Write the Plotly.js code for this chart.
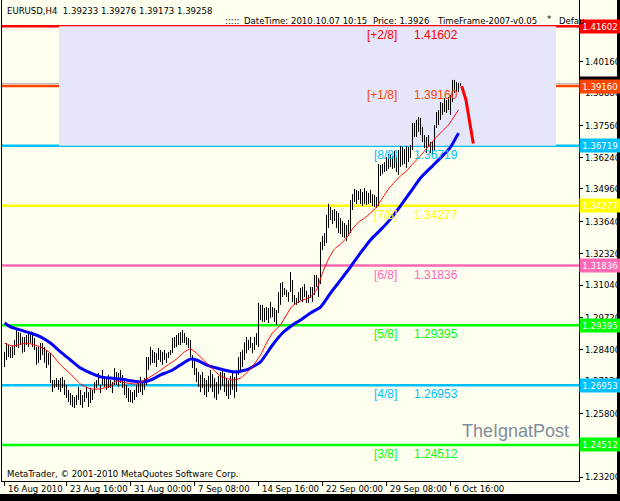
<!DOCTYPE html>
<html><head><meta charset="utf-8">
<script src="https://cdn.plot.ly/plotly-3.0.1.min.js"></script>
<style>
html,body{margin:0;padding:0;background:#000;width:620px;height:501px;overflow:hidden}
#bg{position:absolute;left:0;top:0;width:617px;height:494px;background:#FFFFF0}
#chart{position:absolute;left:0;top:0;width:620px;height:501px}
</style></head><body>
<div id="bg"></div><div id="chart"></div>
<script>
// ---------- data ----------
const symbol = 'EURUSD,H4';
const lastOHLC = [1.39233, 1.39276, 1.39173, 1.39258];
const headerDate = '2010.10.07 10:15';
const headerPrice = 1.3926;
const indicatorName = 'TimeFrame-2007-v0.05';

const high = [
1.2831,1.2867,1.2859,1.2851,1.2859,1.2880,1.2920,1.2912,1.2908,1.2892,
1.2892,1.2900,1.2908,1.2912,1.2908,1.2888,1.2851,1.2851,1.2867,1.2867,
1.2851,1.2839,1.2826,1.2826,1.2716,1.2716,1.2724,1.2716,1.2724,1.2729,
1.2716,1.2696,1.2676,1.2663,1.2655,1.2647,1.2655,1.2688,1.2676,1.2655,
1.2667,1.2688,1.2667,1.2684,1.2676,1.2708,1.2716,1.2745,1.2696,1.2757,
1.2729,1.2724,1.2737,1.2716,1.2708,1.2765,1.2749,1.2745,1.2757,1.2737,
1.2716,1.2696,1.2684,1.2676,1.2667,1.2676,1.2696,1.2708,1.2729,1.2704,
1.2724,1.2810,1.2810,1.2851,1.2839,1.2831,1.2826,1.2847,1.2839,1.2831,
1.2839,1.2826,1.2831,1.2839,1.2888,1.2892,1.2900,1.2908,1.2912,1.2920,
1.2908,1.2892,1.2888,1.2880,1.2818,1.2798,1.2765,1.2749,1.2737,1.2749,
1.2724,1.2716,1.2733,1.2757,1.2741,1.2724,1.2708,1.2733,1.2749,1.2765,
1.2745,1.2724,1.2716,1.2733,1.2749,1.2729,1.2757,1.2810,1.2831,1.2839,
1.2871,1.2892,1.2880,1.2892,1.2867,1.2892,1.2908,1.3031,1.3023,1.3023,
1.3010,1.3014,1.3010,1.3035,1.3014,1.3010,1.3002,1.3075,1.3112,1.3116,
1.3092,1.3084,1.3075,1.3157,1.3124,1.3063,1.3051,1.3075,1.3092,1.3096,
1.3108,1.3080,1.3063,1.3096,1.3096,1.3145,1.3145,1.3133,1.3280,1.3304,
1.3316,1.3390,1.3435,1.3422,1.3410,1.3414,1.3406,1.3398,1.3377,1.3365,
1.3357,1.3349,1.3369,1.3451,1.3475,1.3496,1.3492,1.3488,1.3496,1.3484,
1.3500,1.3488,1.3480,1.3492,1.3475,1.3471,1.3463,1.3598,1.3594,1.3598,
1.3606,1.3626,1.3639,1.3635,1.3631,1.3651,1.3626,1.3655,1.3671,1.3667,
1.3659,1.3671,1.3667,1.3675,1.3765,1.3765,1.3778,1.3790,1.3786,1.3749,
1.3716,1.3708,1.3716,1.3688,1.3688,1.3757,1.3810,1.3818,1.3851,1.3847,
1.3867,1.3859,1.3871,1.3880,1.3941,1.3941,1.3933,1.3929,1.39276];

const low = [
1.2769,1.2798,1.2810,1.2806,1.2806,1.2818,1.2851,1.2847,1.2859,1.2827,
1.2831,1.2859,1.2851,1.2867,1.2851,1.2839,1.2778,1.2786,1.2798,1.2818,
1.2786,1.2765,1.2778,1.2704,1.2667,1.2684,1.2688,1.2676,1.2667,1.2684,
1.2655,1.2643,1.2626,1.2614,1.2606,1.2602,1.2614,1.2635,1.2614,1.2602,
1.2626,1.2643,1.2606,1.2622,1.2635,1.2663,1.2684,1.2696,1.2663,1.2696,
1.2688,1.2676,1.2684,1.2684,1.2663,1.2696,1.2696,1.2688,1.2704,1.2684,
1.2655,1.2643,1.2626,1.2626,1.2622,1.2635,1.2647,1.2663,1.2667,1.2655,
1.2676,1.2696,1.2757,1.2778,1.2786,1.2786,1.2769,1.2798,1.2790,1.2778,
1.2798,1.2786,1.2806,1.2818,1.2826,1.2847,1.2851,1.2859,1.2859,1.2867,
1.2867,1.2859,1.2847,1.2810,1.2765,1.2737,1.2708,1.2688,1.2667,1.2684,
1.2655,1.2647,1.2667,1.2684,1.2667,1.2643,1.2635,1.2659,1.2676,1.2692,
1.2667,1.2651,1.2639,1.2655,1.2676,1.2643,1.2667,1.2737,1.2749,1.2769,
1.2798,1.2826,1.2839,1.2847,1.2826,1.2839,1.2859,1.2851,1.2961,1.2953,
1.2953,1.2961,1.2949,1.2969,1.2973,1.2953,1.2941,1.2990,1.3023,1.3055,
1.3063,1.3055,1.3035,1.3075,1.3035,1.3023,1.3023,1.3031,1.3043,1.3035,
1.3055,1.3031,1.3031,1.3051,1.3035,1.3063,1.3096,1.3055,1.3108,1.3247,
1.3263,1.3275,1.3337,1.3369,1.3353,1.3365,1.3337,1.3316,1.3312,1.3300,
1.3296,1.3284,1.3304,1.3316,1.3410,1.3443,1.3435,1.3451,1.3435,1.3426,
1.3435,1.3431,1.3435,1.3439,1.3426,1.3422,1.3418,1.3426,1.3549,1.3557,
1.3565,1.3569,1.3578,1.3586,1.3578,1.3582,1.3565,1.3553,1.3586,1.3594,
1.3598,1.3582,1.3606,1.3622,1.3655,1.3708,1.3708,1.3729,1.3716,1.3688,
1.3663,1.3643,1.3667,1.3643,1.3635,1.3655,1.3745,1.3757,1.3778,1.3798,
1.3810,1.3806,1.3818,1.3798,1.3851,1.3888,1.3892,1.3892,1.39173];

// moving averages (bar index, price)
const redX = [0,4,11,18,23,28,33,38,43,48,53,56,61,66,71,76,81,86,90,93,96,99,103,108,114,118,123,128,131,134,138,141,144,148,153,156,159,162,165,168,171,174,177,180,183,186,189,192,195,198,201,204,207,210,213,216,219,222,225,227];
const redY = [1.2867,1.2855,1.2867,1.2851,1.2826,1.2778,1.2741,1.2700,1.2680,1.2680,1.2692,1.2712,1.2704,1.2700,1.2720,1.2745,1.2774,1.2802,1.2831,1.2843,1.2826,1.2802,1.2769,1.2733,1.2716,1.2724,1.2761,1.2818,1.2867,1.2908,1.2941,1.2982,1.3019,1.3039,1.3055,1.3084,1.3153,1.3210,1.3251,1.3271,1.3296,1.3333,1.3361,1.3377,1.3398,1.3422,1.3459,1.3496,1.3524,1.3549,1.3569,1.3598,1.3622,1.3651,1.3680,1.3708,1.3733,1.3757,1.3794,1.3818];
const blueX = [0,3,8,13,18,23,28,33,38,43,48,53,58,64,69,73,78,83,88,93,96,101,106,112,116,122,128,134,139,144,148,153,158,163,168,173,178,183,188,193,198,203,208,214,219,223,227];
const blueY = [1.2949,1.2933,1.2920,1.2908,1.2892,1.2867,1.2831,1.2798,1.2765,1.2745,1.2729,1.2724,1.2720,1.2712,1.2708,1.2716,1.2737,1.2753,1.2778,1.2802,1.2798,1.2778,1.2765,1.2753,1.2749,1.2761,1.2790,1.2859,1.2908,1.2941,1.2961,1.2990,1.3014,1.3071,1.3124,1.3178,1.3235,1.3288,1.3329,1.3373,1.3427,1.3484,1.3541,1.3590,1.3631,1.3667,1.3724];
// projection line
const fcX = [228.6, 230.75, 232.4, 234.4];
const fcY = [1.3916, 1.3859, 1.3778, 1.3682];

// Murrey math levels
const levelNames  = ['[+2/8]','[+1/8]','[8/8]','[7/8]','[6/8]','[5/8]','[4/8]','[3/8]'];
const levelValues = [1.41602,1.39160,1.36719,1.34277,1.31836,1.29395,1.26953,1.24512];
const levelColors = ['#FF0000','#FF4500','#00BFFF','#FFFF00','#FF69B4','#00FF00','#00BFFF','#00FF00'];
const bidPrice = 1.39258;
const zoneBars = [27.25, 275.75];
const zonePrices = [1.36719, 1.41602];

const xTickIdx  = [0,31,63,95,127,159,191,223];
const xTickText = ['16 Aug 2010','23 Aug 16:00','31 Aug 00:00','7 Sep 08:00','14 Sep 16:00','22 Sep 00:00','29 Sep 08:00','6 Oct 16:00'];
const yTicks = [1.2320,1.2448,1.2580,1.2712,1.2840,1.2972,1.3104,1.3232,1.3364,1.3496,1.3624,1.3756,1.3888,1.4016,1.4148];

// ---------- font choice (narrow UI font like MetaTrader's) ----------
function hasFont(name) {
  const c = document.createElement('canvas').getContext('2d');
  c.font = "20px monospace"; const a = c.measureText('1.34960 EURUSD').width;
  c.font = "20px '" + name + "', monospace"; const b = c.measureText('1.34960 EURUSD').width;
  return Math.abs(a - b) > 0.5;
}
let UI, UIS;
if (hasFont('Liberation Sans Narrow')) { UI = "'Liberation Sans Narrow'"; UIS = 11; }
else if (hasFont('DejaVu Sans Condensed')) { UI = "'DejaVu Sans Condensed'"; UIS = 9.5; }
else { UI = "'Liberation Sans'"; UIS = 9.2; }
const LBL = "'Liberation Sans',Arial,sans-serif";

// ---------- drawing ----------
const PL = 2, PR = 579, PT = 0, PB = 481;
const px2x = px => (px - PL) / (PR - PL);
const py2y = py => (PB - py) / (PB - PT);
const NB = '\u00A0';

const bx = [], by = [];
for (let i = 0; i < high.length; i++) { bx.push(i, i, null); by.push(low[i], high[i], null); }

const traces = [
  {type:'scatter', mode:'lines', x:bx, y:by, line:{color:'#000000', width:1}, hoverinfo:'skip'},
  {type:'scatter', mode:'lines', x:blueX, y:blueY, line:{color:'#0000FF', width:3, shape:'spline', smoothing:0.5}, hoverinfo:'skip'},
  {type:'scatter', mode:'lines', x:redX, y:redY, line:{color:'#FF0000', width:1, shape:'spline', smoothing:0.5}, hoverinfo:'skip'},
  {type:'scatter', mode:'lines', x:fcX, y:fcY, line:{color:'#FF0000', width:3}, hoverinfo:'skip'}
];

const shapes = [
  {type:'rect', xref:'x', yref:'y', x0:zoneBars[0], x1:zoneBars[1], y0:zonePrices[0], y1:zonePrices[1],
   fillcolor:'#E6E6FA', line:{width:0}, layer:'below'},
  {type:'line', xref:'paper', yref:'y', x0:0, x1:1, y0:bidPrice, y1:bidPrice, line:{color:'#A8A8A8', width:1}, layer:'below'}
];
levelValues.forEach((v, k) => {
  shapes.push({type:'line', xref:'paper', yref:'y', x0:0, x1:1, y0:v, y1:v,
               line:{color:levelColors[k], width:2.5}, layer:'below'});
});

const ann = [];
ann.push({xref:'paper', yref:'y', x:1, y:bidPrice, xanchor:'left', yanchor:'middle', showarrow:false,
          text:bidPrice.toFixed(5), bgcolor:'#000000', font:{family:UI, size:UIS, color:'#FFFFFF'},
          width:38, height:11, borderpad:1});
levelValues.forEach((v, k) => {
  ann.push({xref:'x', yref:'y', x:(399-4.5)/2, y:v, yshift:-9, xanchor:'right', yanchor:'middle', showarrow:false,
            text:levelNames[k], font:{family:LBL, size:12, color:levelColors[k]}});
  ann.push({xref:'x', yref:'y', x:(412-4.5)/2, y:v, yshift:-9, xanchor:'left', yanchor:'middle', showarrow:false,
            text:v.toFixed(5), font:{family:LBL, size:12, color:levelColors[k]}});
  ann.push({xref:'paper', yref:'y', x:1, y:v, xanchor:'left', yanchor:'middle', showarrow:false,
            text:v.toFixed(5), bgcolor:levelColors[k], font:{family:UI, size:UIS, color:'#FFFFFF'},
            width:38, height:11, borderpad:1});
});
xTickIdx.forEach((ix, k) => {
  ann.push({xref:'x', yref:'paper', x:ix, y:py2y(488), xanchor:'left', yanchor:'middle', xshift:1, showarrow:false,
            text:xTickText[k], font:{family:UI, size:UIS, color:'#000000'}});
});
ann.push({xref:'paper', yref:'paper', x:px2x(5), y:py2y(10), xanchor:'left', yanchor:'middle', showarrow:false,
          text:symbol + NB + NB + lastOHLC.map(v => v.toFixed(5)).join(NB), font:{family:UI, size:UIS, color:'#000000'}});
const line2 = [
  [223, ':::::'],
  [242, 'DateTime:'],
  [289, headerDate],
  [371, 'Price:' + NB + headerPrice.toFixed(4)],
  [435, indicatorName],
  [545, '*'],
  [557, 'Defau']
];
line2.forEach(([px, t]) => {
  ann.push({xref:'paper', yref:'paper', x:px2x(px), y:py2y(t === '*' ? 18 : 20), xanchor:'left', yanchor:'middle', showarrow:false,
            text:t, font:{family:UI, size:UIS, color:'#000000'}});
});
ann.push({xref:'paper', yref:'paper', x:px2x(5), y:py2y(473), xanchor:'left', yanchor:'middle', showarrow:false,
          text:'MetaTrader, © 2001-2010 MetaQuotes Software Corp.', font:{family:UI, size:UIS, color:'#000000'}});
ann.push({xref:'paper', yref:'paper', x:px2x(460), y:py2y(431), xanchor:'left', yanchor:'middle', showarrow:false,
          text:'TheIgnatPost', font:{family:LBL, size:18, color:'#7F8C9C'}});

const layout = {
  width:620, height:501,
  margin:{l:PL, r:620-PR, t:PT, b:501-PB, pad:0},
  paper_bgcolor:'rgba(0,0,0,0)', plot_bgcolor:'#FFFFF0',
  showlegend:false,
  xaxis:{range:[-1.25, 287.25], showgrid:false, zeroline:false, showline:true, linecolor:'#000000', linewidth:1,
         ticks:'outside', ticklen:4, tickcolor:'#000000', tickvals:xTickIdx, showticklabels:false, fixedrange:true},
  yaxis:{side:'right', range:[1.23040, 1.42673], showgrid:false, zeroline:false, showline:true, mirror:true,
         linecolor:'#000000', linewidth:1, ticks:'outside', ticklen:3, tickcolor:'#000000',
         tickvals:yTicks, tickformat:'.5f', tickfont:{family:UI, size:UIS, color:'#000000'}, fixedrange:true},
  shapes:shapes,
  annotations:ann
};
Plotly.newPlot('chart', traces, layout, {staticPlot:true, displayModeBar:false});
</script>
</body></html>
